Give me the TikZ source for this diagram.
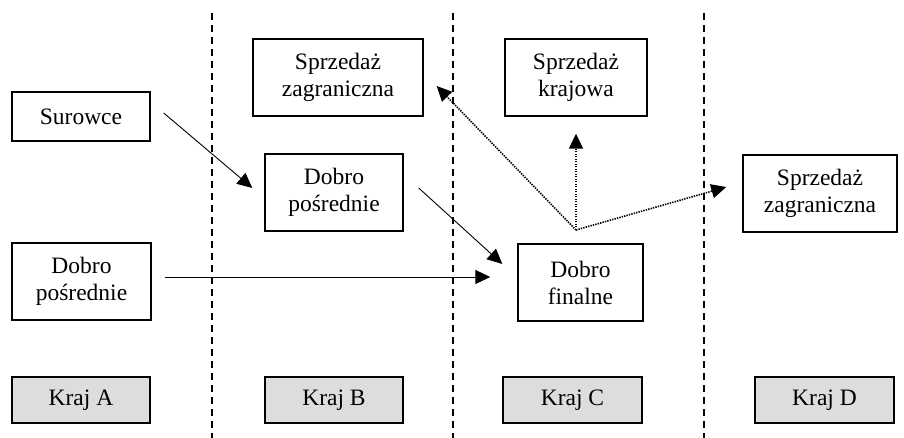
\documentclass[tikz,border=0pt]{standalone}
\usepackage{fontspec}
\setmainfont{Liberation Serif}
\usetikzlibrary{arrows.meta,calc}
\definecolor{krajgray}{HTML}{DCDDDE}
\begin{document}
\begin{tikzpicture}[x=1pt,y=-1pt,
  box/.style={draw=black,line width=1.4pt,rectangle,align=center,inner sep=0pt,
    font=\fontsize{23.5}{27}\selectfont},
  kraj/.style={box,fill=krajgray,minimum width=138pt,minimum height=46pt},
  flow/.style={line width=0.9pt,-{Triangle[length=15pt,width=14pt]}},
  dflow/.style={line width=1.6pt,dash pattern=on 1.4pt off 1.1pt,-{Triangle[length=15pt,width=14pt]}},
  sep/.style={line width=1.3pt,dash pattern=on 7pt off 5pt}]
\useasboundingbox (0,0) rectangle (904,438);
% separators
\draw[sep] (212,13) -- (212,438);
\draw[sep] (453,13) -- (453,438);
\draw[sep] (704,13) -- (704,438);
% nodes
\node[box,minimum width=138pt,minimum height=49pt] (sur) at (81,116.5) {Surowce};
\node[box,minimum width=170pt,minimum height=77pt] (szb) at (338,77.5) {Sprzedaż\\zagraniczna};
\node[box,minimum width=138pt,minimum height=77pt] (dpb) at (334,192.5) {Dobro\\pośrednie};
\node[box,minimum width=142pt,minimum height=77pt] (sk) at (576,77.5) {Sprzedaż\\krajowa};
\node[box,minimum width=154pt,minimum height=77pt] (szd) at (820,193.5) {Sprzedaż\\zagraniczna};
\node[box,minimum width=139pt,minimum height=77pt] (dpa) at (81.5,281.5) {Dobro\\pośrednie};
\node[box,minimum width=125pt,minimum height=77pt] (df) at (580.5,282.5) {Dobro\\finalne};
\node[kraj] (ka) at (81,400) {Kraj A};
\node[kraj] (kb) at (334,400) {Kraj B};
\node[kraj,minimum width=139pt] (kc) at (572.5,400) {Kraj C};
\node[kraj,minimum width=139pt] (kd) at (824.5,400) {Kraj D};
% solid arrows
\draw[flow] ($(sur.east)+(13,-3.5)$) -- ($(dpb.west)+(-12,-4.5)$);
\draw[flow] ($(dpb.east)+(15,-4.5)$) -- ($(df.west)+(-15,-18.5)$);
\draw[flow] ($(dpa.east)+(13,-4.5)$) -- ($(df.west)+(-27,-5.5)$);
% dotted arrows
\coordinate (o) at (576,230);
\draw[dflow] (o) -- ($(szb.east)+(13,8.5)$);
\draw[dflow] (o) -- ($(sk.south)+(0,17)$);
\draw[dflow] (o) -- ($(szd.west)+(-16,-6.5)$);
\end{tikzpicture}
\end{document}
